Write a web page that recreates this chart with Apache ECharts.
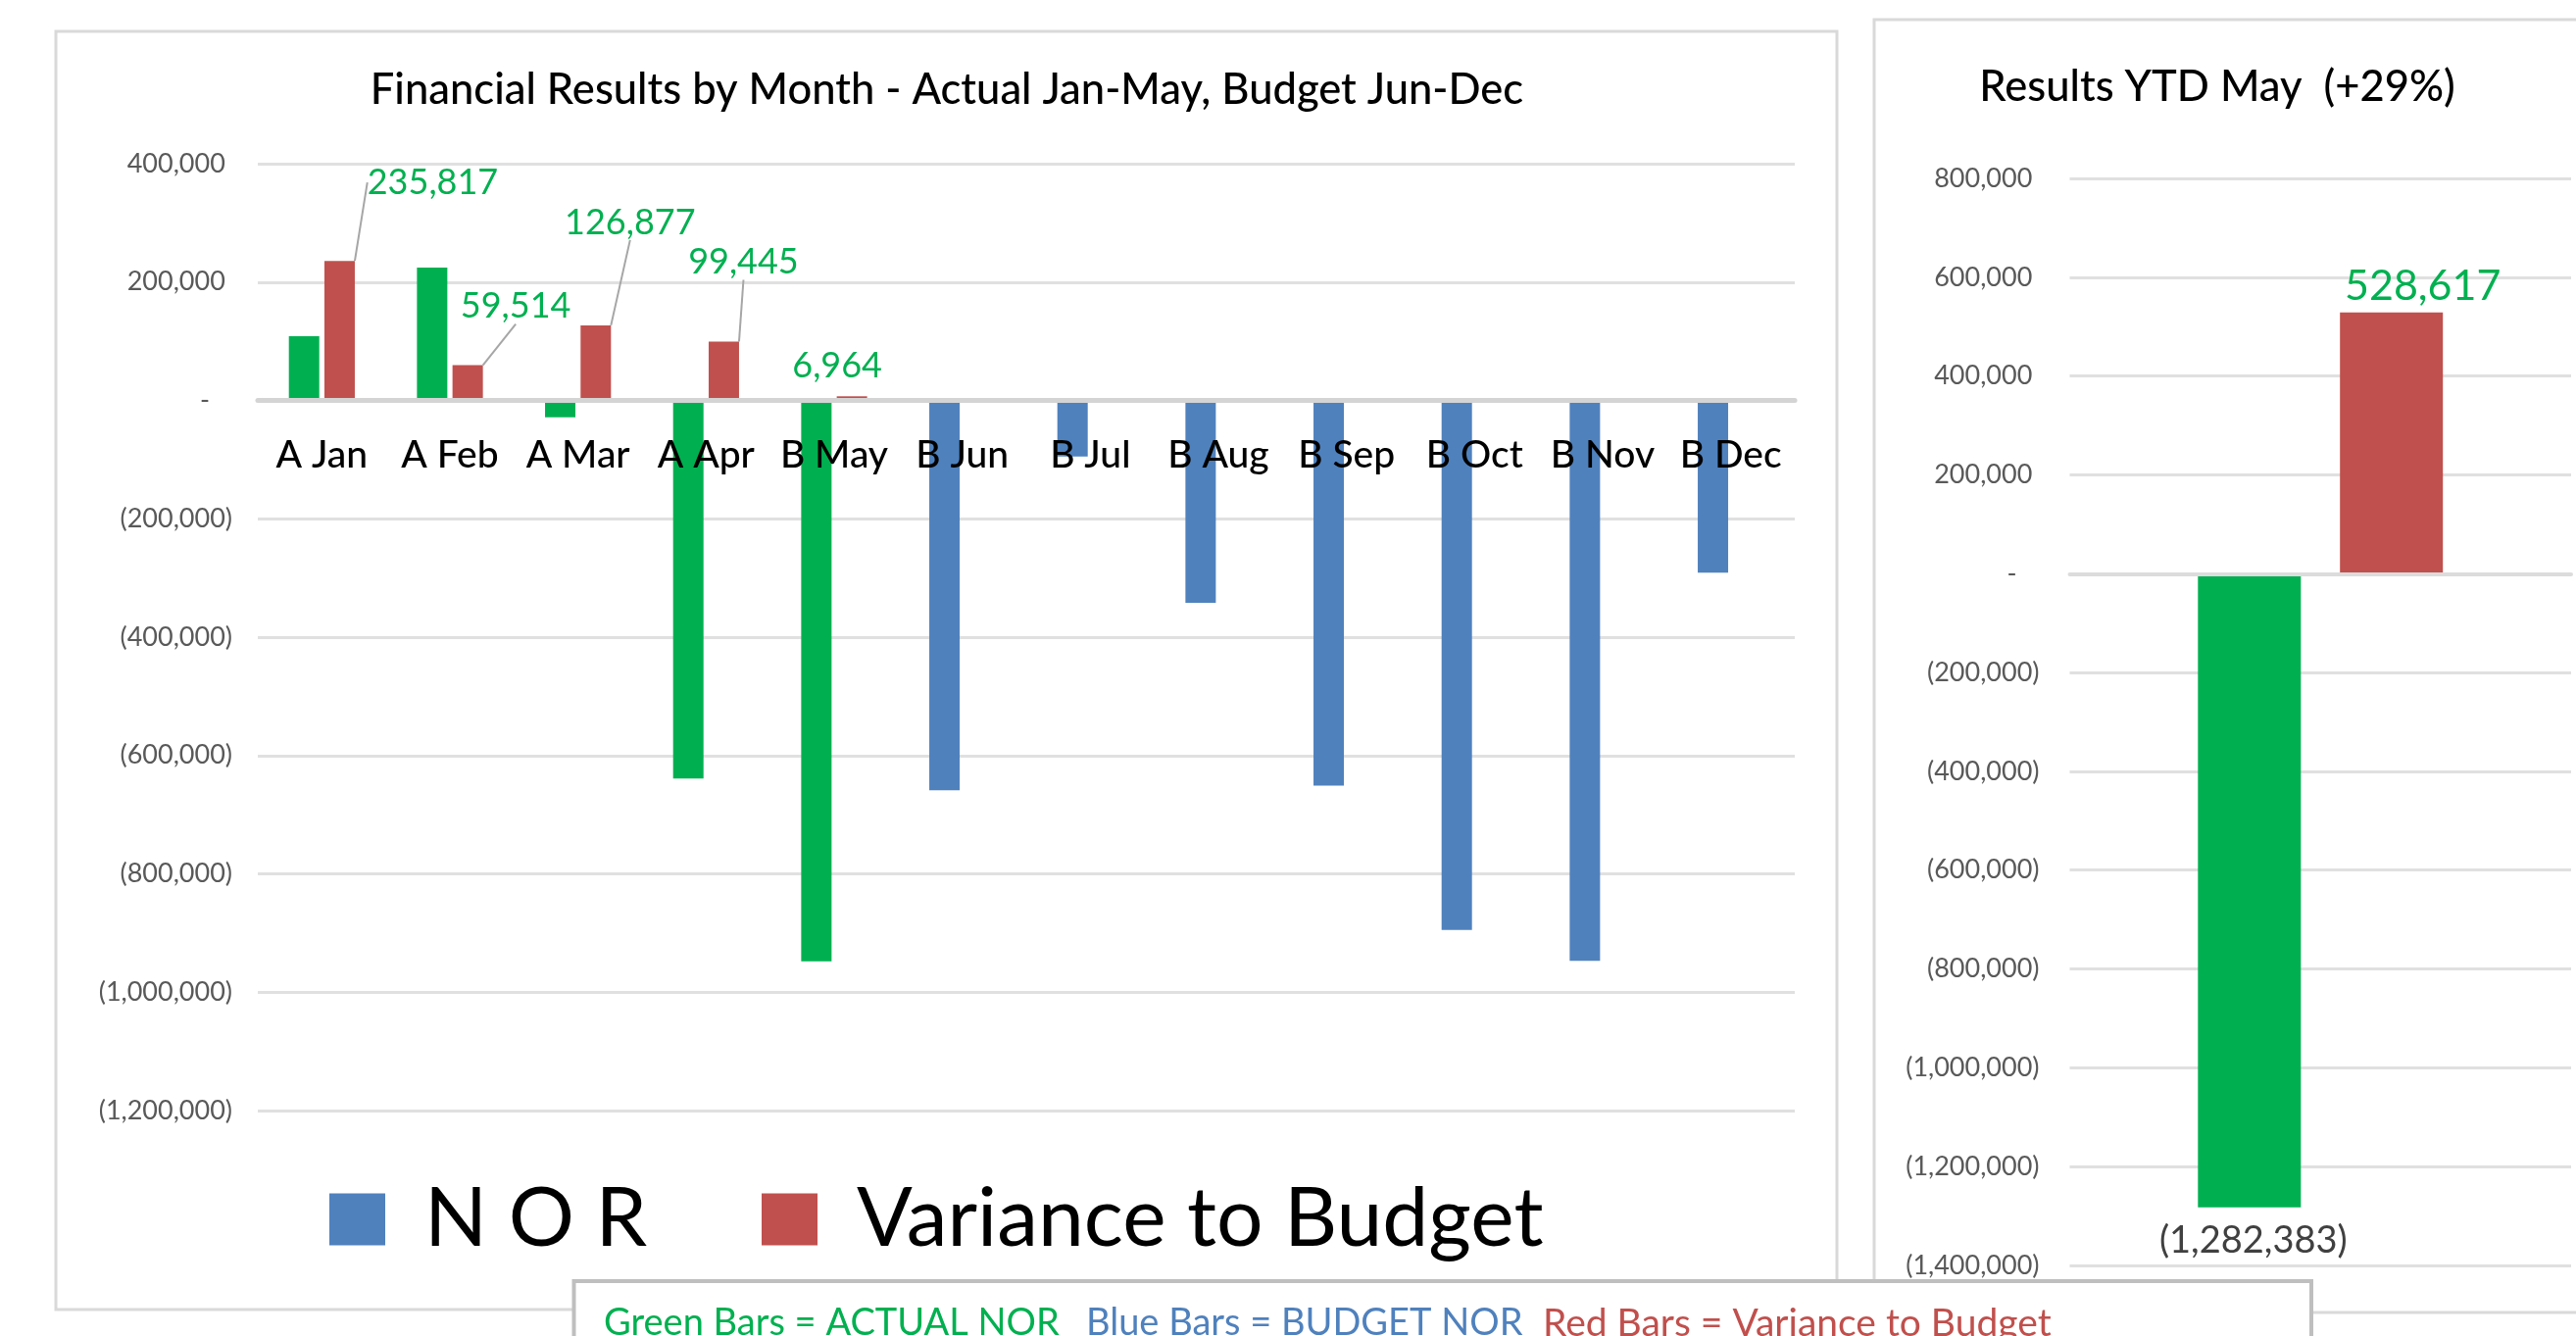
<!DOCTYPE html>
<html><head><meta charset="utf-8">
<script src="https://cdn.jsdelivr.net/npm/echarts@6/dist/echarts.min.js"></script>
<style>html,body{margin:0;padding:0;background:#fff}#c{width:2628px;height:1363px}</style>
</head><body><div id="c"></div>
<script>
// ---- data ----
const months = ['A Jan','A Feb','A Mar','A Apr','B May','B Jun','B Jul','B Aug','B Sep','B Oct','B Nov','B Dec'];
const norValues = [108500, 224500, -28500, -639000, -947883, -659000, -95000, -342000, -651000, -895000, -947000, -291000];
const actualFlags = [true, true, true, true, true, false, false, false, false, false, false, false];
const varianceValues = [235817, 59514, 126877, 99445, 6964, null, null, null, null, null, null, null];
const monthlyAxis = [-1200000, 400000, 200000];   // min, max, interval
const ytdCategories = ['YTD May'];
const ytdActual = [-1282383];
const ytdVariance = [528617];
const ytdAxis = [-1400000, 800000, 200000];
const titleMonthly = 'Financial Results by Month - Actual Jan-May, Budget Jun-Dec';
const titleYtd = 'Results YTD May  (+29%)';
const legendNames = ['N O R', 'Variance to Budget'];
const noteParts = ['Green Bars = ACTUAL NOR', 'Blue Bars = BUDGET NOR', 'Red Bars = Variance to Budget'];

// ---- styles ----
const FONT = 'Lato';
const GREEN = '#00B050', BLUE = '#4F81BD', RED = '#C0504D';
const GRID_COLOR = '#e0e0e0';
const varLabelShift = [[95, -57], [49, -37], [35, -82], [20, -58], [-15, -8]];
const varLabelLine = [true, true, true, true, false];

const fmt = v => Math.abs(v).toLocaleString('en-US');
const acct = v => v < 0 ? '(' + fmt(v) + ')' : fmt(v);
const tickFmt = v => v > 0 ? '{n|' + fmt(v) + '}{h|)}' : (v < 0 ? '{n|(' + fmt(v) + ')}' : '{n|-}{h|0)}');
const tickRich = {
  n: {fontSize: 27, color: '#595959', fontFamily: FONT},
  h: {fontSize: 27, color: 'rgba(0,0,0,0)', fontFamily: FONT}
};

const norData = norValues.map((v, i) => ({value: v, itemStyle: {color: actualFlags[i] ? GREEN : BLUE}}));
const varData = varianceValues.map((v, i) => v == null ? null : ({value: v, labelLine: {show: !!varLabelLine[i]}}));

const chart = echarts.init(document.getElementById('c'), null, {renderer: 'canvas'});
chart.setOption({
  backgroundColor: '#fff',
  animation: false,
  title: [
    {text: titleMonthly, left: 966, top: 70, textAlign: 'center', padding: 0,
     textStyle: {fontFamily: FONT, fontSize: 43.5, fontWeight: 500, color: '#000'}},
    {text: titleYtd, left: 2262, top: 67, textAlign: 'center', padding: 0,
     textStyle: {fontFamily: FONT, fontSize: 43.5, fontWeight: 500, color: '#000'}}
  ],
  legend: {
    data: legendNames, left: 336, top: 1202, padding: 0, icon: 'rect',
    itemWidth: 57, itemHeight: 53, itemGap: 117,
    textStyle: {fontFamily: FONT, fontSize: 84, color: '#000', padding: [0, 0, 0, 35]}
  },
  grid: [
    {left: 263, right: 2628 - 1831, top: 167, bottom: 1363 - 1133, containLabel: false},
    {left: 2111.5, right: 5, top: 182, bottom: 1363 - 1291, containLabel: false}
  ],
  xAxis: [
    {type: 'category', gridIndex: 0, data: months, z: 10,
     axisLine: {onZero: true, lineStyle: {color: '#d4d4d4', width: 5}},
     axisTick: {show: false},
     axisLabel: {interval: 0, margin: -688, color: '#000', fontSize: 39, fontWeight: 500, fontFamily: FONT}},
    {type: 'category', gridIndex: 1, data: ytdCategories, z: 10,
     axisLine: {onZero: true, lineStyle: {color: '#dcdcdc', width: 4}},
     axisTick: {show: false}, axisLabel: {show: false}}
  ],
  yAxis: [
    {type: 'value', gridIndex: 0, min: monthlyAxis[0], max: monthlyAxis[1], interval: monthlyAxis[2],
     axisLine: {show: false}, axisTick: {show: false},
     splitLine: {lineStyle: {color: GRID_COLOR, width: 3}},
     axisLabel: {margin: 26, formatter: tickFmt, rich: tickRich}},
    {type: 'value', gridIndex: 1, min: ytdAxis[0], max: ytdAxis[1], interval: ytdAxis[2],
     axisLine: {show: false}, axisTick: {show: false},
     splitLine: {lineStyle: {color: GRID_COLOR, width: 3}},
     axisLabel: {margin: 31, formatter: tickFmt, rich: tickRich}}
  ],
  series: [
    {name: legendNames[0], type: 'bar', xAxisIndex: 0, yAxisIndex: 0, barWidth: 31, barGap: '17%',
     itemStyle: {color: BLUE}, data: norData},
    {name: legendNames[1], type: 'bar', xAxisIndex: 0, yAxisIndex: 0, barWidth: 31, barGap: '17%',
     itemStyle: {color: RED}, data: varData,
     label: {show: true, position: 'top', distance: 5, color: GREEN, fontSize: 36, fontFamily: FONT,
             formatter: p => fmt(p.value)},
     labelLine: {show: true, lineStyle: {color: '#a6a6a6', width: 2}},
     labelLayout: p => {
       const s = varLabelShift[p.dataIndex];
       return s ? {dx: s[0], dy: s[1]} : {};
     }},
    {name: 'YTD Actual', type: 'bar', xAxisIndex: 1, yAxisIndex: 1, barWidth: 105, barGap: '38%',
     itemStyle: {color: GREEN}, data: ytdActual,
     label: {show: true, position: 'bottom', distance: 5, offset: [4, 10], color: '#404040', fontSize: 38,
             fontFamily: FONT, formatter: p => acct(p.value)}},
    {name: 'YTD Variance', type: 'bar', xAxisIndex: 1, yAxisIndex: 1, barWidth: 105, barGap: '38%',
     itemStyle: {color: RED}, data: ytdVariance,
     label: {show: true, position: 'top', distance: 5, offset: [32, 0], color: GREEN, fontSize: 43,
             fontFamily: FONT, formatter: p => acct(p.value)}}
  ],
  graphic: [
    {type: 'rect', silent: true, z: -10, shape: {x: 57, y: 32, width: 1817, height: 1304},
     style: {fill: 'none', stroke: '#d9d9d9', lineWidth: 3}},
    {type: 'rect', silent: true, z: -10, shape: {x: 1912, y: 20, width: 800, height: 1319},
     style: {fill: 'none', stroke: '#d9d9d9', lineWidth: 3}},
    {type: 'rect', silent: true, z: 100, shape: {x: 585.5, y: 1307, width: 1772.5, height: 120},
     style: {fill: '#fff', stroke: '#bfbfbf', lineWidth: 4}},
    {type: 'text', silent: true, z: 101, x: 616, y: 1350,
     style: {text: noteParts[0], fill: GREEN, fontSize: 38, fontFamily: FONT, verticalAlign: 'middle'}},
    {type: 'text', silent: true, z: 101, x: 1108, y: 1350,
     style: {text: noteParts[1], fill: BLUE, fontSize: 38, fontFamily: FONT, verticalAlign: 'middle'}},
    {type: 'text', silent: true, z: 101, x: 1574, y: 1350,
     style: {text: noteParts[2], fill: RED, fontSize: 39, fontFamily: FONT, verticalAlign: 'middle'}}
  ]
});
</script></body></html>
